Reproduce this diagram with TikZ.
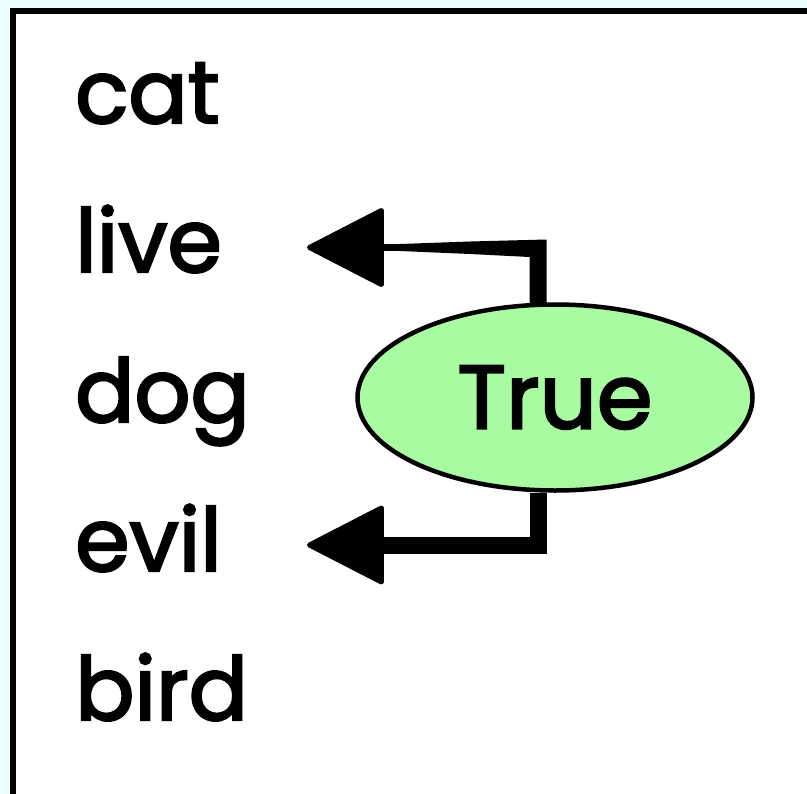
\documentclass[tikz,border=0pt]{standalone}
\usepackage{fontspec}
\setmainfont{Poppins}[FakeBold=2.6]
\usetikzlibrary{shapes.geometric,arrows.meta}
\definecolor{bgcyan}{RGB}{236,255,255}
\definecolor{truegreen}{RGB}{168,251,160}
\tikzset{
  word/.style={anchor=base west, inner sep=0pt, font=\fontsize{88}{88}\selectfont},
  truenode/.style={ellipse, draw, line width=4.5bp, fill=truegreen, minimum width=395bp, minimum height=186bp, inner sep=0pt, font=\fontsize{90}{90}\selectfont},
  bighead/.style={-{Triangle[length=80bp,width=81bp,line width=5bp,round]}},
  conn/.style={draw, bighead},
}
\begin{document}
\begin{tikzpicture}[x=1bp,y=-1bp]
\useasboundingbox (0,0) rectangle (807,794);
\clip (0,0) rectangle (807,794);
\fill[bgcyan] (0,0) rectangle (807,794);
\draw[line width=5.5bp, fill=white] (13,11) rectangle (840,830);

\node[word] (cat)  at (75,123) {cat};
\node[word] (live) at (75,272) {live};
\node[word] (dog)  at (75,422) {dog};
\node[word] (evil) at (75,571) {evil};
\node[word] (bird) at (75,720) {bird};

\node[truenode] (T) at (555,397.5) {True};

\coordinate (liveTip) at (307,247.5);
\coordinate (evilTip) at (307,545);

% upper connector (tapering stroke)
\draw[conn, line width=7bp] ([xshift=-17bp]T.north) |- (liveTip);
\fill[black] (546.5,305) -- (546.5,239.5) -- (470,241.5) -- (400,244)
  -- (400,251) -- (470,254) -- (529.5,257) -- (529.5,305) -- cycle;

% lower connector
\draw[conn, line width=17bp] ([xshift=-17bp]T.south) |- (evilTip);
\end{tikzpicture}
\end{document}
